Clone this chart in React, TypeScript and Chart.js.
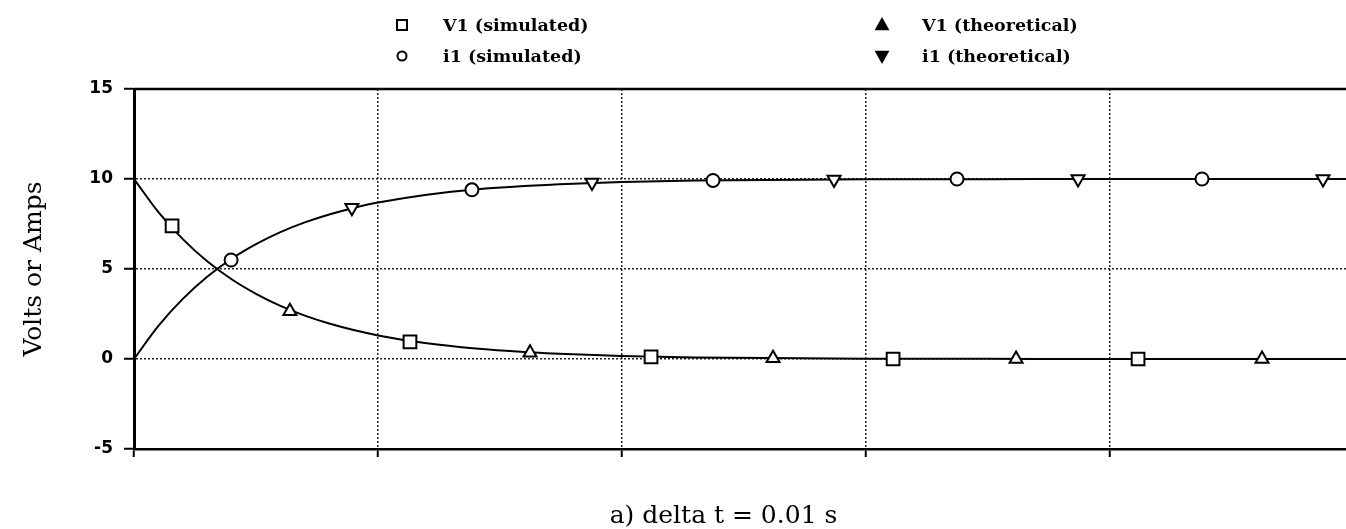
import React, { useEffect, useRef } from 'react';
import { Chart, registerables } from 'chart.js';

Chart.register(...registerables);

// Smooth theoretical curves (x in grid units, 1 unit = one vertical gridline spacing)
const curveX = [0, 0.1, 0.2, 0.3, 0.4, 0.5, 0.6, 0.7, 0.8, 0.9, 1.0, 1.2, 1.4, 1.6, 1.8, 2.0, 2.3, 2.6, 3.0, 3.5, 4.0, 4.5, 5.0, 5.4];
const v1Curve = [10, 8.16, 6.66, 5.43, 4.43, 3.62, 2.95, 2.41, 1.97, 1.61, 1.31, 0.87, 0.58, 0.39, 0.26, 0.17, 0.09, 0.05, 0.02, 0.01, 0, 0, 0, 0];
const i1Curve = [0, 1.84, 3.34, 4.57, 5.57, 6.38, 7.05, 7.59, 8.03, 8.39, 8.69, 9.13, 9.42, 9.61, 9.74, 9.83, 9.91, 9.95, 9.98, 9.99, 10, 10, 10, 10];

// Marker series
const v1SimX = [0.156, 1.131, 2.119, 3.111, 4.115];
const v1SimY = [7.4, 0.95, 0.12, 0.0, 0.0];
const i1SimX = [0.398, 1.385, 2.373, 3.373, 4.377];
const i1SimY = [5.5, 9.4, 9.92, 10, 10];
const v1TheoX = [0.639, 1.623, 2.619, 3.615, 4.623];
const v1TheoY = [2.65, 0.35, 0.04, 0, 0];
const i1TheoX = [0.893, 1.877, 2.869, 3.869, 4.873];
const i1TheoY = [8.4, 9.8, 9.97, 10, 10];

const seriesLabels = ['V1 (simulated)', 'i1 (simulated)', 'V1 (theoretical)', 'i1 (theoretical)'];
const yTitle = 'Volts or Amps';
const caption = 'a) delta t = 0.01 s';
const yMin = -5;
const yMax = 15;
const yStep = 5;
const xMin = 0;
const xMax = 5.336;
const xStep = 1;

const pts = (xs: number[], ys: number[]) => xs.map((x, i) => ({ x, y: ys[i] }));

function drawMarker(ctx: CanvasRenderingContext2D, style: string, x: number, y: number, r: number, filled: boolean) {
  ctx.save();
  ctx.beginPath();
  if (style === 'rect') {
    ctx.rect(x - r, y - r, 2 * r, 2 * r);
  } else if (style === 'circle') {
    ctx.arc(x, y, r, 0, Math.PI * 2);
  } else if (style === 'triangle') {
    ctx.moveTo(x, y - r);
    ctx.lineTo(x + r * 0.95, y + r * 0.7);
    ctx.lineTo(x - r * 0.95, y + r * 0.7);
    ctx.closePath();
  } else {
    ctx.moveTo(x, y + r);
    ctx.lineTo(x + r * 0.95, y - r * 0.7);
    ctx.lineTo(x - r * 0.95, y - r * 0.7);
    ctx.closePath();
  }
  ctx.fillStyle = filled ? '#000' : '#fff';
  ctx.fill();
  ctx.lineWidth = 2;
  ctx.strokeStyle = '#000';
  ctx.stroke();
  ctx.restore();
}

const legendPlugin = {
  id: 'gridLegend',
  afterDraw(chart: any) {
    const ctx = chart.ctx as CanvasRenderingContext2D;
    const items = [
      { label: seriesLabels[0], style: 'rect', mx: 402, tx: 443, y: 25, filled: false, r: 5 },
      { label: seriesLabels[1], style: 'circle', mx: 402, tx: 443, y: 56, filled: false, r: 4.5 },
      { label: seriesLabels[2], style: 'triangle', mx: 882, tx: 922, y: 25, filled: true, r: 6 },
      { label: seriesLabels[3], style: 'triangleDown', mx: 882, tx: 922, y: 56, filled: true, r: 6 },
    ];
    ctx.save();
    ctx.font = "bold 17.5px 'DejaVu Serif'";
    ctx.fillStyle = '#000';
    ctx.textBaseline = 'middle';
    ctx.textAlign = 'left';
    for (const it of items) {
      drawMarker(ctx, it.style, it.mx, it.y, it.r, it.filled);
      ctx.fillText(it.label, it.tx, it.y + 1);
    }
    // top frame line
    const { left, right, top } = chart.chartArea;
    ctx.beginPath();
    ctx.lineWidth = 2.5;
    ctx.strokeStyle = '#000';
    ctx.moveTo(left, top);
    ctx.lineTo(right, top);
    ctx.stroke();
    ctx.restore();
  },
};

export default function App() {
  const ref = useRef<HTMLCanvasElement | null>(null);

  useEffect(() => {
    if (!ref.current) return;
    const markerCommon = {
      showLine: false,
      borderColor: '#000',
      backgroundColor: '#fff',
      pointBorderWidth: 2,
      order: 1,
    };
    const chart = new Chart(ref.current, {
      type: 'scatter',
      data: {
        datasets: [
          {
            label: 'V1 curve',
            data: pts(curveX, v1Curve),
            showLine: true,
            pointRadius: 0,
            borderColor: '#000',
            borderWidth: 2,
            cubicInterpolationMode: 'monotone',
            order: 2,
          },
          {
            label: 'i1 curve',
            data: pts(curveX, i1Curve),
            showLine: true,
            pointRadius: 0,
            borderColor: '#000',
            borderWidth: 2,
            cubicInterpolationMode: 'monotone',
            order: 2,
          },
          { ...markerCommon, label: seriesLabels[0], data: pts(v1SimX, v1SimY), pointStyle: 'rect', pointRadius: 9 },
          { ...markerCommon, label: seriesLabels[1], data: pts(i1SimX, i1SimY), pointStyle: 'circle', pointRadius: 6.5 },
          { ...markerCommon, label: seriesLabels[2], data: pts(v1TheoX, v1TheoY), pointStyle: 'triangle', pointRadius: 7.5 },
          { ...markerCommon, label: seriesLabels[3], data: pts(i1TheoX, i1TheoY), pointStyle: 'triangle', pointRotation: 180, pointRadius: 7.5 },
        ],
      } as any,
      options: {
        animation: false,
        responsive: false,
        layout: { padding: { top: 89, right: 0, left: 0, bottom: 0 } },
        plugins: {
          legend: { display: false },
          tooltip: { enabled: false },
          title: {
            display: true,
            text: caption,
            position: 'bottom',
            color: '#000',
            font: { family: "'DejaVu Serif'", size: 25, weight: 'normal', lineHeight: 1 },
            padding: { top: 30, bottom: 0 },
          },
        },
        scales: {
          x: {
            type: 'linear',
            min: xMin,
            max: xMax,
            ticks: { stepSize: xStep, display: false },
            grid: {
              color: (c: any) => (c.tick && c.tick.value === xMin ? 'rgba(0,0,0,0)' : '#222'),
              lineWidth: 1.5,
              tickColor: '#000',
              tickLength: 8,
              tickWidth: 2,
            },
            border: { color: '#000', width: 2.5, dash: [2, 2] },
            afterFit: (s: any) => {
              s.height = 25;
            },
          },
          y: {
            type: 'linear',
            min: yMin,
            max: yMax,
            ticks: {
              stepSize: yStep,
              color: '#000',
              padding: 11,
              font: { family: "'DejaVu Sans'", size: 17, weight: 'bold' },
            },
            grid: {
              color: (c: any) =>
                c.tick && (c.tick.value === yMax || c.tick.value === yMin) ? 'rgba(0,0,0,0)' : '#222',
              lineWidth: 1.5,
              tickColor: '#000',
              tickLength: 10,
              tickWidth: 2,
            },
            border: { color: '#000', width: 3, dash: [2, 2] },
            title: {
              display: true,
              text: yTitle,
              color: '#000',
              font: { family: "'DejaVu Serif'", size: 25, weight: 'normal' },
              padding: { top: 19, bottom: 0 },
            },
            afterFit: (s: any) => {
              s.width = 134;
            },
          },
        },
      } as any,
      plugins: [legendPlugin],
    });
    return () => chart.destroy();
  }, []);

  return (
    <div style={{ position: 'fixed', left: 0, top: 0, width: '100vw', height: '100vh', overflow: 'hidden', background: '#fff' }}>
      <canvas ref={ref} width={1447} height={529} style={{ display: 'block', width: 1447, height: 529 }} />
    </div>
  );
}
